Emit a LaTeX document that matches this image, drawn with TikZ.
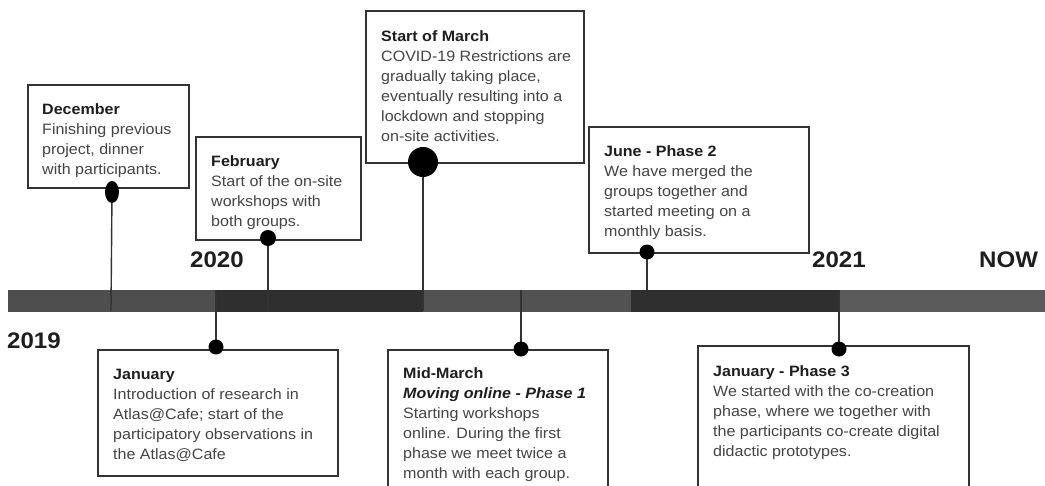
\documentclass[tikz,border=0pt]{standalone}
\usepackage{fontspec}
\setmainfont{Liberation Sans}[FakeStretch=1.07]
\usetikzlibrary{shapes.geometric}
\definecolor{segA}{HTML}{4E4E4E}
\definecolor{segB}{HTML}{2F2F2F}
\definecolor{segC}{HTML}{525252}
\definecolor{segD}{HTML}{5A5A5A}
\definecolor{linec}{HTML}{333333}
\definecolor{bodyc}{HTML}{444444}
\definecolor{titlec}{HTML}{1E1E1E}
\tikzset{
  seg/.style={draw=none, inner sep=0, anchor=north west, minimum height=22pt},
  evbox/.style={draw=linec, line width=1.5pt, fill=white, inner sep=0, anchor=north west},
  evtext/.style={anchor=north west, inner sep=0, align=left, text=bodyc,
    font=\fontsize{15}{20}\selectfont},
  year/.style={anchor=north west, inner sep=0, text=titlec,
    font=\fontsize{22.5}{24}\selectfont\bfseries},
  stem/.style={draw=linec, line width=1.4pt},
  dot/.style={circle, fill=black, inner sep=0, minimum size=15pt},
  decdot/.style={ellipse, fill=black, inner sep=0, minimum width=14pt, minimum height=22pt},
}
\newcommand{\ttl}[1]{{\bfseries\color{titlec}#1}}
\begin{document}
\begin{tikzpicture}[x=1pt,y=-1pt]
\clip (0,0) rectangle (1045,485);
% timeline bar
\node[seg, fill=segA, minimum width=208pt] (s1) at (8,290) {};
\node[seg, fill=segB, minimum width=207pt] (s2) at (216,290) {};
\node[seg, fill=segC, minimum width=208pt] (s3) at (423,290) {};
\node[seg, fill=segB, minimum width=208pt] (s4) at (631,290) {};
\node[seg, fill=segD, minimum width=206pt] (s5) at (839,290) {};
% years
\node[year] (y2019) at (7,333) {2019};
\node[year] (y2020) at (190,252) {2020};
\node[year] (y2021) at (812,252) {2021};
\node[year] (ynow) at (979,252) {NOW};
% boxes
\node[evbox, minimum width=161pt, minimum height=103pt] (decb) at (27,84) {};
\node[evbox, minimum width=165pt, minimum height=103pt] (febb) at (195,136) {};
\node[evbox, minimum width=218pt, minimum height=152pt] (marb) at (365,10) {};
\node[evbox, minimum width=220pt, minimum height=126pt] (junb) at (588,126) {};
\node[evbox, minimum width=240pt, minimum height=126pt] (janb) at (97,349) {};
\node[evbox, minimum width=220pt, minimum height=150pt] (midb) at (387,349) {};
\node[evbox, minimum width=271pt, minimum height=150pt] (jp3b) at (697,345) {};
% bar anchor points
\coordinate (cdec) at (111,311);
\coordinate (cfeb) at (268,311);
\coordinate (cmar) at (423,311);
\coordinate (cjun) at (647,290);
\coordinate (cjan) at (216,290);
\coordinate (cmid) at (521,290);
\coordinate (cjp3) at (839,290);
% dot positions
\coordinate (decd) at (112,192);
\coordinate (febd) at (268,238);
\coordinate (mard) at (423,162);
\coordinate (jund) at (647,252);
\coordinate (jand) at (216,347);
\coordinate (midd) at (521,349);
\coordinate (jp3d) at (839,349);
% stems
\draw[stem] (decd) -- (cdec);
\draw[stem] (febd) -- (cfeb);
\draw[stem] (mard) -- (cmar);
\draw[stem] (jund) -- (cjun);
\draw[stem] (cjan) -- (jand);
\draw[stem] (cmid) -- (midd);
\draw[stem] (cjp3) -- (jp3d);
% dots
\node[decdot] (decdn) at (decd) {};
\node[dot, minimum size=16pt] (febdn) at (febd) {};
\node[dot, minimum size=30pt] (mardn) at (mard) {};
\node[dot] (jundn) at (jund) {};
\node[dot] (jandn) at (jand) {};
\node[dot] (middn) at (midd) {};
\node[dot] (jp3dn) at (jp3d) {};
% texts
\node[evtext] (dect) at (42,103) {\ttl{December}\\Finishing previous\\project, dinner\\with participants.};
\node[evtext] (febt) at (211,155) {\ttl{February}\\Start of the on-site\\workshops with\\both groups.};
\node[evtext] (mart) at (381,30) {\ttl{Start of March}\\COVID-19 Restrictions are\\gradually taking place,\\eventually resulting into a\\lockdown and stopping\\on-site activities.};
\node[evtext] (junt) at (604,145) {\ttl{June - Phase 2}\\We have merged the\\groups together and\\started meeting on a\\monthly basis.};
\node[evtext] (jant) at (113,369) {\ttl{January}\\Introduction of research in\\Atlas@Cafe; start of the\\participatory observations in\\the Atlas@Cafe};
\node[evtext] (midt) at (403,367) {\ttl{Mid-March}\\\ttl{\itshape Moving online - Phase 1}\\Starting workshops\\online. During the first\\phase we meet twice a\\month with each group.};
\node[evtext] (jp3t) at (713,365) {\ttl{January - Phase 3}\\We started with the co-creation\\phase, where we together with\\the participants co-create digital\\didactic prototypes.};
\end{tikzpicture}
\end{document}
